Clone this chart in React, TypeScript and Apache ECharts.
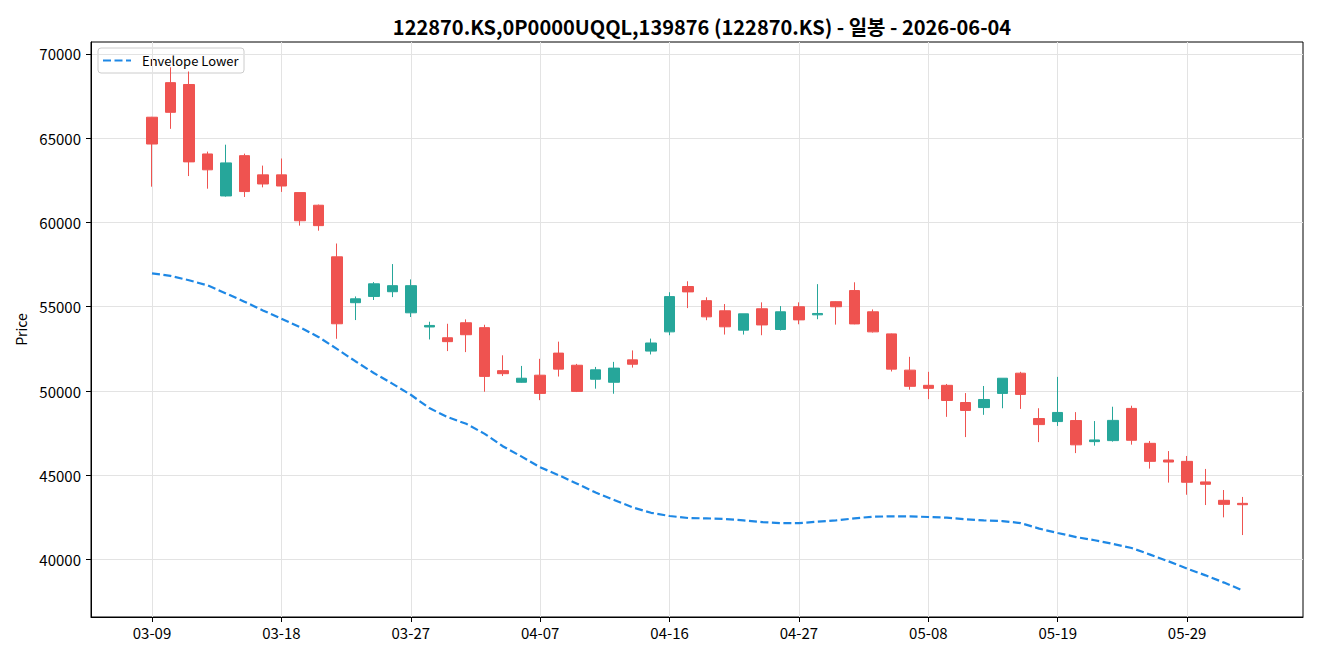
import React, { useEffect, useRef } from 'react';
import * as echarts from 'echarts';

// Trading days (MM-DD), one per candle
const dates = [
  '03-09', '03-10', '03-11', '03-12', '03-13', '03-16', '03-17', '03-18', '03-19', '03-20',
  '03-23', '03-24', '03-25', '03-26', '03-27', '03-30', '03-31', '04-01', '04-02', '04-03',
  '04-06', '04-07', '04-08', '04-09', '04-10', '04-13', '04-14', '04-15', '04-16', '04-17',
  '04-20', '04-21', '04-22', '04-23', '04-24', '04-27', '04-28', '04-29', '04-30', '05-04',
  '05-06', '05-07', '05-08', '05-11', '05-12', '05-13', '05-14', '05-15', '05-18', '05-19',
  '05-20', '05-21', '05-22', '05-26', '05-27', '05-28', '05-29', '06-01', '06-02', '06-04',
];

const opens = [
  66240, 68290, 68180, 64060, 61570, 63960, 62820, 62820, 61770, 61020,
  57960, 55240, 55610, 55890, 54640, 53800, 53160, 54050, 53760, 51210,
  50520, 50940, 52250, 51530, 50700, 50520, 51850, 52370, 53510, 56200,
  55360, 54760, 53610, 54880, 53650, 55000, 54520, 55300, 55960, 54700,
  53390, 51240, 50340, 50340, 49320, 49020, 49860, 51060, 48370, 48190,
  48250, 47000, 47060, 48970, 46900, 45910, 45830, 44610, 43520, 43340,
];

const closes = [
  64650, 66530, 63590, 63120, 63530, 61830, 62280, 62160, 60100, 59810,
  53990, 55470, 56360, 56250, 56250, 53890, 52930, 53340, 50870, 51030,
  50760, 49860, 51300, 49980, 51260, 51360, 51590, 52850, 55600, 55880,
  54400, 53810, 54580, 53920, 54700, 54220, 54600, 55000, 53980, 53510,
  51300, 50280, 50160, 49440, 48850, 49500, 50760, 49800, 48010, 48730,
  46810, 47100, 48260, 47080, 45830, 45790, 44590, 44470, 43280, 43260,
];

const lows = [
  62120, 65550, 62750, 62000, 61530, 61510, 62080, 61810, 59810, 59510,
  53100, 54210, 55400, 55570, 54390, 53060, 52370, 52310, 49960, 50890,
  50500, 49460, 50860, 49940, 50140, 49840, 51390, 52170, 53310, 54920,
  54200, 53350, 53350, 53310, 53590, 53960, 54260, 53940, 53960, 53470,
  51160, 50080, 49520, 48470, 47270, 48590, 48980, 48940, 46970, 47930,
  46320, 46760, 47000, 46820, 45400, 44570, 43850, 43240, 42510, 41460,
];

const highs = [
  66260, 69200, 68950, 64200, 64610, 64080, 63370, 63790, 61770, 61060,
  58750, 55610, 56460, 57530, 56620, 54110, 53990, 54250, 53930, 52120,
  51490, 51910, 52930, 51610, 51430, 51730, 52410, 53110, 55860, 56510,
  55560, 55160, 54580, 55260, 55040, 55260, 56340, 55320, 56450, 54840,
  53410, 52030, 51140, 50420, 49880, 50300, 50760, 51140, 48980, 50840,
  48750, 48220, 49070, 49130, 47040, 46440, 46150, 45380, 44130, 43720,
];

const envelopeLower = [
  56980, 56830, 56570, 56270, 55790, 55300, 54780, 54290, 53790, 53210,
  52500, 51770, 51070, 50440, 49780, 48990, 48450, 48060, 47460, 46710,
  46110, 45480, 45010, 44500, 43980, 43540, 43100, 42780, 42590, 42470,
  42450, 42410, 42330, 42230, 42170, 42170, 42250, 42330, 42450, 42550,
  42570, 42570, 42530, 42490, 42400, 42330, 42290, 42170, 41840, 41580,
  41340, 41150, 40930, 40690, 40300, 39900, 39470, 39070, 38640, 38180,
];

const xTickIndices = [0, 7, 14, 21, 28, 35, 42, 49, 56];
const yTicks = [40000, 45000, 50000, 55000, 60000, 65000, 70000];

const chartTitle = '122870.KS,0P0000UQQL,139876 (122870.KS) - 일봉 - 2026-06-04';
const legendLabel = 'Envelope Lower';

const FONT = "'Noto Sans CJK KR', 'Noto Sans', sans-serif";
const UP = '#26a69a';
const DOWN = '#ef5350';
const LINE = '#1e88e5';

export default function App() {
  const ref = useRef<HTMLDivElement>(null);

  useEffect(() => {
    if (!ref.current) return;
    const chart = echarts.init(ref.current, null, { renderer: 'svg' });

    const candles = dates.map((_, i) => [i, opens[i], closes[i], lows[i], highs[i]]);
    const envelope = envelopeLower.map((v, i) => [i, v]);

    chart.setOption({
      animation: false,
      backgroundColor: '#ffffff',
      textStyle: { fontFamily: FONT },
      title: {
        text: chartTitle,
        left: 697,
        top: 11,
        textAlign: 'center',
        textStyle: { fontFamily: FONT, fontSize: 20, fontWeight: 'bold', color: '#000' },
      },
      grid: {
        left: 91,
        right: 17,
        top: 42,
        bottom: 43,
        show: true,
        borderColor: '#000',
        borderWidth: 1,
        backgroundColor: 'transparent',
      },
      xAxis: {
        type: 'value',
        min: -3.3,
        max: 62.27,
        axisLine: { show: true, onZero: false, lineStyle: { color: '#000', width: 1 } },
        axisTick: {
          show: true,
          inside: false,
          length: 5,
          lineStyle: { color: '#000', width: 1 },
          customValues: xTickIndices,
        },
        axisLabel: {
          customValues: xTickIndices,
          formatter: (v: number) => dates[Math.round(v)] ?? '',
          color: '#000',
          fontSize: 15,
          fontFamily: FONT,
          margin: 8,
        },
        splitLine: { show: true, lineStyle: { color: '#e3e3e3', width: 1 } },
      },
      yAxis: {
        type: 'value',
        min: 36600,
        max: 70700,
        name: 'Price',
        nameLocation: 'middle',
        nameGap: 60,
        nameTextStyle: { color: '#000', fontSize: 14, fontFamily: FONT },
        axisLine: { show: true, onZero: false, lineStyle: { color: '#000', width: 1 } },
        axisTick: {
          show: true,
          inside: false,
          length: 5,
          lineStyle: { color: '#000', width: 1 },
          customValues: yTicks,
        },
        axisLabel: {
          customValues: yTicks,
          formatter: (v: number) => String(v),
          color: '#000',
          fontSize: 15,
          fontFamily: FONT,
          margin: 10,
        },
        splitLine: { show: true, lineStyle: { color: '#e3e3e3', width: 1 } },
      },
      series: [
        {
          name: legendLabel,
          type: 'line',
          data: envelope,
          showSymbol: false,
          symbol: 'none',
          z: 3,
          lineStyle: { color: LINE, width: 2.2, type: [8, 3.5] },
        },
        {
          name: 'Price',
          type: 'candlestick',
          data: candles,
          barWidth: 11,
          z: 4,
          itemStyle: {
            color: UP,
            color0: DOWN,
            borderColor: UP,
            borderColor0: DOWN,
            borderWidth: 1,
          },
        },
      ],
      graphic: [
        {
          type: 'group',
          z: 100,
          children: [
            {
              type: 'rect',
              shape: { x: 98, y: 48, width: 146, height: 25, r: 3 },
              style: { fill: 'rgba(255,255,255,0.8)', stroke: '#cccccc', lineWidth: 1 },
            },
            {
              type: 'line',
              shape: { x1: 103, y1: 60.5, x2: 131, y2: 60.5 },
              style: { stroke: LINE, lineWidth: 2.2, lineDash: [8, 3.5] },
            },
            {
              type: 'text',
              x: 142,
              y: 60.5,
              style: {
                text: legendLabel,
                fill: '#000',
                font: `13px ${FONT}`,
                verticalAlign: 'middle',
                align: 'left',
              },
            },
          ],
        },
      ],
    });

    return () => chart.dispose();
  }, []);

  return (
    <div
      ref={ref}
      style={{ position: 'fixed', left: 0, top: 0, width: 1320, height: 660, background: '#fff' }}
    />
  );
}
